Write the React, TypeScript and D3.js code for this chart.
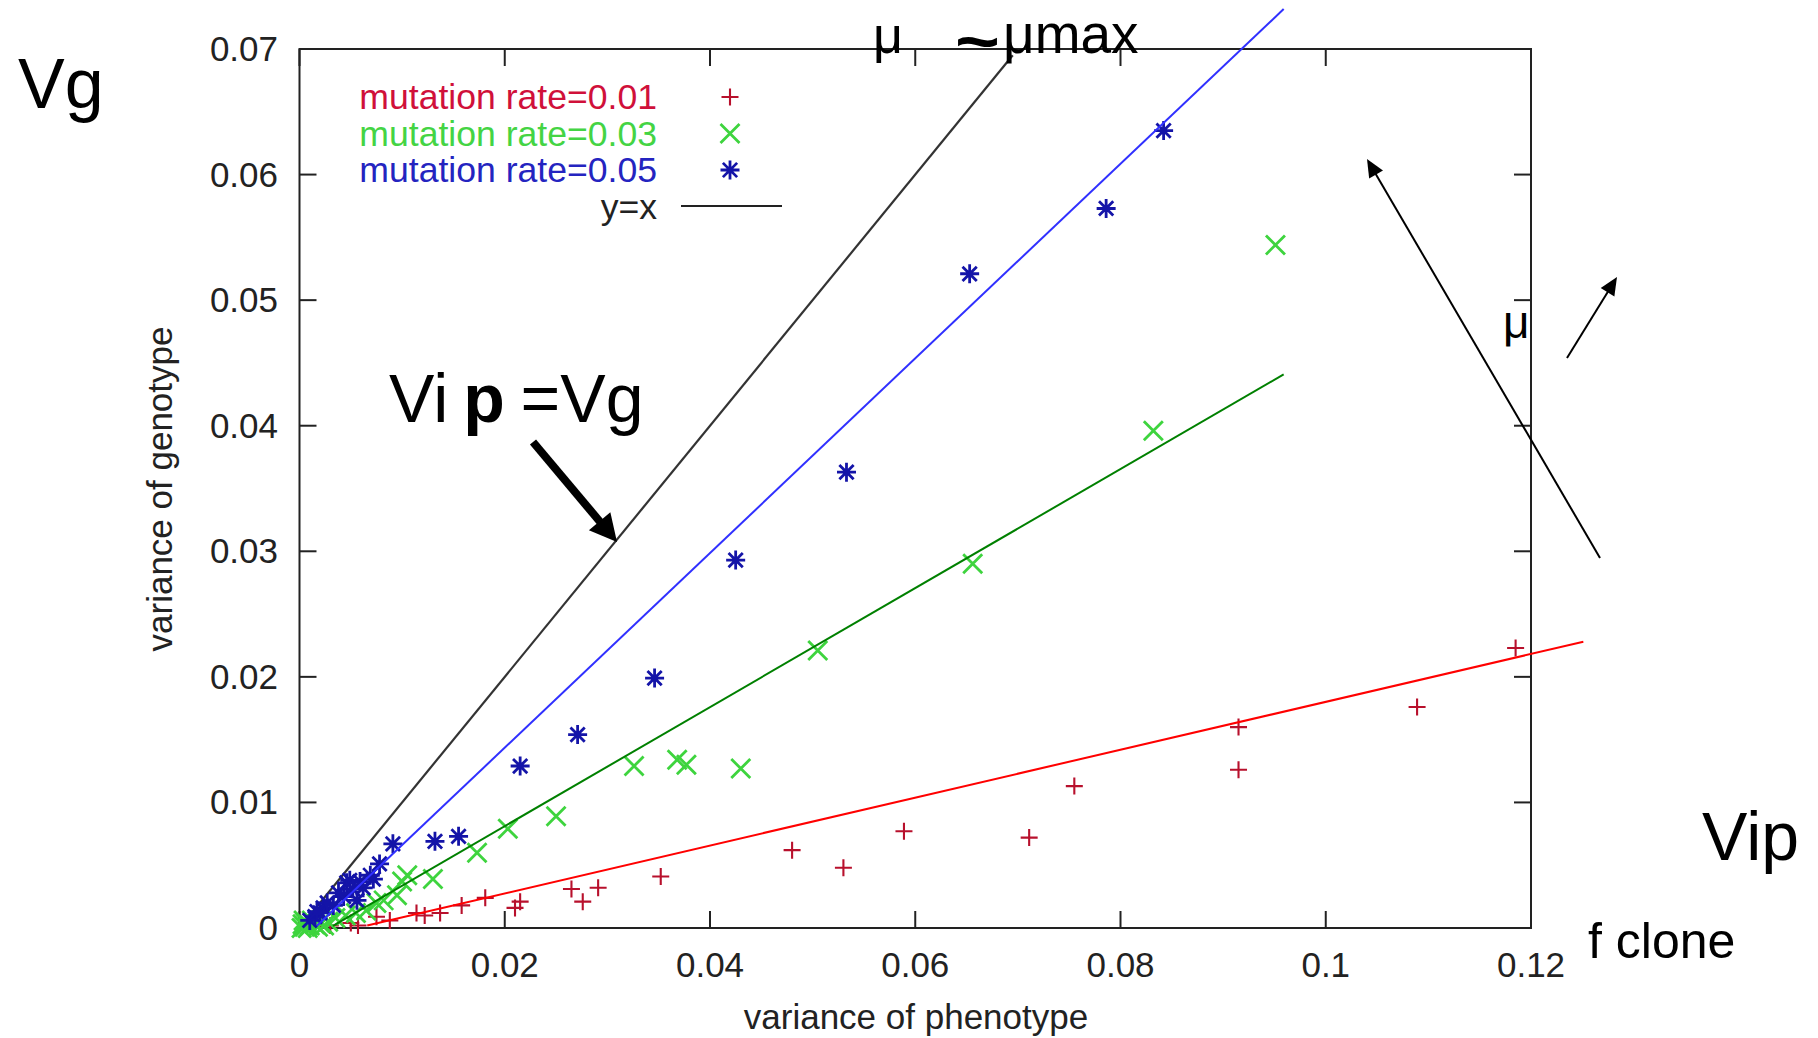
import React from "react";
import * as d3 from "d3";

const W = 1818;
const H = 1038;

const xTicks = [0, 0.02, 0.04, 0.06, 0.08, 0.1, 0.12];
const yTicks = [0, 0.01, 0.02, 0.03, 0.04, 0.05, 0.06, 0.07];
const xTickLabels = ["0", "0.02", "0.04", "0.06", "0.08", "0.1", "0.12"];
const yTickLabels = ["0", "0.01", "0.02", "0.03", "0.04", "0.05", "0.06", "0.07"];

const seriesNames = ["mutation rate=0.01", "mutation rate=0.03", "mutation rate=0.05"];

// mutation rate = 0.01 (red +)
const rate01: [number, number][] = [
  [0.1185, 0.0223], [0.1089, 0.0176], [0.0915, 0.016], [0.0915, 0.0126],
  [0.0755, 0.0113], [0.0711, 0.0072], [0.0589, 0.0077], [0.053, 0.0048],
  [0.048, 0.0062], [0.0352, 0.0041], [0.0291, 0.0032], [0.0276, 0.0021],
  [0.0265, 0.0031], [0.0215, 0.0021], [0.021, 0.0016], [0.0181, 0.0024],
  [0.0158, 0.0018], [0.0137, 0.0012], [0.0122, 0.001], [0.0114, 0.0012],
  [0.0088, 0.0006], [0.0075, 0.0009], [0.0057, 0.0002], [0.005, 0.0004],
  [0.003, 0.0002], [0.0015, 0.0001],
];

// mutation rate = 0.03 (green x)
const rate03: [number, number][] = [
  [0.0951, 0.0544], [0.0832, 0.0396], [0.0656, 0.029], [0.0505, 0.0221],
  [0.043, 0.0127], [0.0377, 0.013], [0.0368, 0.0134], [0.0326, 0.0129],
  [0.025, 0.0089], [0.0203, 0.0079], [0.0173, 0.006], [0.013, 0.0039],
  [0.0105, 0.0042], [0.01, 0.0037], [0.0095, 0.0026], [0.0082, 0.0022],
  [0.0075, 0.002], [0.0065, 0.0014], [0.0055, 0.0012], [0.0045, 0.001],
  [0.0035, 0.0008], [0.0028, 0.0005], [0.002, 0.0004], [0.0015, 0.0003],
  [0.001, 0.0002], [0.0005, 0.0001], [0.0003, 0.0003], [0.0008, 0.0], [0.0012, 0.0006],
  [0.0002, 0.0], [0.0006, 0.0004], [0.0018, 0.0001], [0.0024, 0.0002], [0.0004, 0.0006],
];

// mutation rate = 0.05 (blue *)
const rate05: [number, number][] = [
  [0.0842, 0.0635], [0.0786, 0.0573], [0.0653, 0.0521], [0.0533, 0.0363],
  [0.0425, 0.0293], [0.0346, 0.0199], [0.0271, 0.0154], [0.0215, 0.0129],
  [0.0155, 0.0073], [0.0132, 0.0069], [0.0091, 0.0067], [0.0078, 0.0051],
  [0.0072, 0.0039], [0.0069, 0.0042], [0.0059, 0.0037], [0.0049, 0.0038],
  [0.0046, 0.0036], [0.0062, 0.0032], [0.0043, 0.0025], [0.0056, 0.0022],
  [0.0033, 0.0018], [0.0023, 0.0016], [0.002, 0.0012], [0.0015, 0.0009], [0.001, 0.0006],
  [0.0038, 0.0028], [0.0027, 0.002], [0.0052, 0.0031], [0.0017, 0.0013],
];

// linear fits per series
const fitSlope = [0.1907, 0.474, 0.775];
const fitIntercept = [-0.00106, -0.00137, -0.00114];
const fitXStart = [0.0066, 0.00326, 0.0017];
const fitXEnd = [0.1251, 0.0959, 0.0959];

// y = x reference line range
const identityRange = [0, 0.0695];

const FONT = "'Liberation Sans', Arial, Helvetica, sans-serif";

export default function App() {
  const x = d3.scaleLinear().domain([0, 0.12]).range([299.5, 1531]);
  const y = d3.scaleLinear().domain([0, 0.07]).range([928, 49]);
  const line = d3.line<[number, number]>().x((d) => x(d[0])).y((d) => y(d[1]));

  const markerColors = ["#b8102c", "#3ed43e", "#1414a8"];
  const lineColors = ["#ff0000", "#008000", "#3030ff"];
  const textColors = ["#d0103a", "#44d444", "#2424c0"];
  const series = [rate01, rate03, rate05];
  const sizes = [8.5, 9.5, 9.5];

  const marker = (kind: number, cx: number, cy: number, color: string, key: string) => {
    const ms = sizes[kind];
    if (kind === 0) {
      return (
        <path key={key} d={`M${cx - ms},${cy}H${cx + ms}M${cx},${cy - ms}V${cy + ms}`} stroke={color} strokeWidth={2.1} fill="none" />
      );
    }
    if (kind === 1) {
      return (
        <path key={key} d={`M${cx - ms},${cy - ms}L${cx + ms},${cy + ms}M${cx - ms},${cy + ms}L${cx + ms},${cy - ms}`} stroke={color} strokeWidth={2.8} fill="none" />
      );
    }
    const k = ms * 0.75;
    return (
      <path key={key} d={`M${cx - ms},${cy}H${cx + ms}M${cx},${cy - ms}V${cy + ms}M${cx - k},${cy - k}L${cx + k},${cy + k}M${cx - k},${cy + k}L${cx + k},${cy - k}`} stroke={color} strokeWidth={2.8} fill="none" />
    );
  };

  const arrowHead = (x1: number, y1: number, x2: number, y2: number, len: number, hw: number) => {
    const dx = x2 - x1, dy = y2 - y1;
    const L = Math.hypot(dx, dy);
    const ux = dx / L, uy = dy / L;
    const bx = x2 - ux * len, by = y2 - uy * len;
    return `M${x2},${y2}L${bx - uy * hw},${by + ux * hw}L${bx + uy * hw},${by - ux * hw}Z`;
  };
  const shaftEnd = (x1: number, y1: number, x2: number, y2: number, len: number) => {
    const dx = x2 - x1, dy = y2 - y1;
    const L = Math.hypot(dx, dy);
    return [x2 - (dx / L) * len * 0.8, y2 - (dy / L) * len * 0.8];
  };

  const x0 = x(0), x1 = x(0.12), y0 = y(0), y1 = y(0.07);
  const tl = 17;

  const a1 = [533, 442, 617, 542];
  const a1e = shaftEnd(a1[0], a1[1], a1[2], a1[3], 27);
  const a2 = [1600, 558, 1367, 159];
  const a2e = shaftEnd(a2[0], a2[1], a2[2], a2[3], 18);
  const a3 = [1567, 358, 1617, 277];
  const a3e = shaftEnd(a3[0], a3[1], a3[2], a3[3], 18);

  return (
    <svg width={W} height={H} style={{ position: "absolute", left: 0, top: 0, background: "#fff" }} fontFamily={FONT}>
      <rect x={0} y={0} width={W} height={H} fill="#fff" />

      {/* frame */}
      <rect x={x0} y={y1} width={x1 - x0} height={y0 - y1} fill="none" stroke="#222" strokeWidth={2} />
      {xTicks.map((t, i) => (
        <g key={"xt" + i}>
          <line x1={x(t)} x2={x(t)} y1={y0} y2={y0 - tl} stroke="#222" strokeWidth={2} />
          <line x1={x(t)} x2={x(t)} y1={y1} y2={y1 + tl} stroke="#222" strokeWidth={2} />
          <text x={x(t)} y={977} fontSize={35} textAnchor="middle" fill="#222">{xTickLabels[i]}</text>
        </g>
      ))}
      {yTicks.map((t, i) => (
        <g key={"yt" + i}>
          <line x1={x0} x2={x0 + tl} y1={y(t)} y2={y(t)} stroke="#222" strokeWidth={2} />
          <line x1={x1} x2={x1 - tl} y1={y(t)} y2={y(t)} stroke="#222" strokeWidth={2} />
          <text x={278} y={y(t) + 12} fontSize={35} textAnchor="end" fill="#222">{yTickLabels[i]}</text>
        </g>
      ))}

      {/* axis labels */}
      <text x={916} y={1029} fontSize={35} textAnchor="middle" fill="#222">variance of phenotype</text>
      <text transform={`translate(172,489) rotate(-90)`} fontSize={35} textAnchor="middle" fill="#222">variance of genotype</text>

      {/* y = x */}
      <path d={line(identityRange.map((v) => [v, v]) as [number, number][]) || ""} stroke="#333" strokeWidth={2.2} fill="none" />

      {/* points */}
      {series.map((s, si) => (
        <g key={"s" + si}>{s.map((p, pi) => marker(si, x(p[0]), y(p[1]), markerColors[si], `p${si}-${pi}`))}</g>
      ))}

      {/* fits */}
      {fitSlope.map((m, i) => {
        const pts: [number, number][] = [
          [fitXStart[i], m * fitXStart[i] + fitIntercept[i]],
          [fitXEnd[i], m * fitXEnd[i] + fitIntercept[i]],
        ];
        return <path key={"f" + i} d={line(pts) || ""} stroke={lineColors[i]} strokeWidth={2} fill="none" />;
      })}

      {/* legend */}
      {seriesNames.map((n, i) => (
        <g key={"lg" + i}>
          <text x={657} y={97 + i * 36.5 + 12} fontSize={35.6} textAnchor="end" fill={textColors[i]}>{n}</text>
          {marker(i, 730, 97 + i * 36.5, markerColors[i], "lm" + i)}
        </g>
      ))}
      <text x={657} y={207 + 12} fontSize={35.6} textAnchor="end" fill="#222">y=x</text>
      <line x1={681} x2={782} y1={206} y2={206} stroke="#222" strokeWidth={2.2} />

      {/* annotations */}
      <text x={18} y={108} fontSize={70} fill="#000">Vg</text>
      <text x={873} y={53} fontSize={52} fill="#000">μ</text>
      <text transform="translate(955,63) scale(1.2,1)" fontSize={64} fill="#000" fontWeight="bold">~</text>
      <text x={1003} y={53} fontSize={55} fill="#000">μmax</text>

      <text x={389} y={422} fontSize={68} fill="#000">
        Vi <tspan fontWeight="bold" dx={-4}>p</tspan><tspan dx={-3}> =Vg</tspan>
      </text>
      <line x1={a1[0]} y1={a1[1]} x2={a1e[0]} y2={a1e[1]} stroke="#000" strokeWidth={8} />
      <path d={arrowHead(a1[0], a1[1], a1[2], a1[3], 27, 14)} fill="#000" />

      <line x1={a2[0]} y1={a2[1]} x2={a2e[0]} y2={a2e[1]} stroke="#000" strokeWidth={2} />
      <path d={arrowHead(a2[0], a2[1], a2[2], a2[3], 18, 8)} fill="#000" />

      <text x={1503} y={338} fontSize={46} fill="#000">μ</text>
      <line x1={a3[0]} y1={a3[1]} x2={a3e[0]} y2={a3e[1]} stroke="#000" strokeWidth={2} />
      <path d={arrowHead(a3[0], a3[1], a3[2], a3[3], 18, 8)} fill="#000" />

      <text x={1702} y={860} fontSize={68} fill="#000">Vip</text>
      <text x={1588} y={958} fontSize={50} fill="#000">f clone</text>
    </svg>
  );
}
